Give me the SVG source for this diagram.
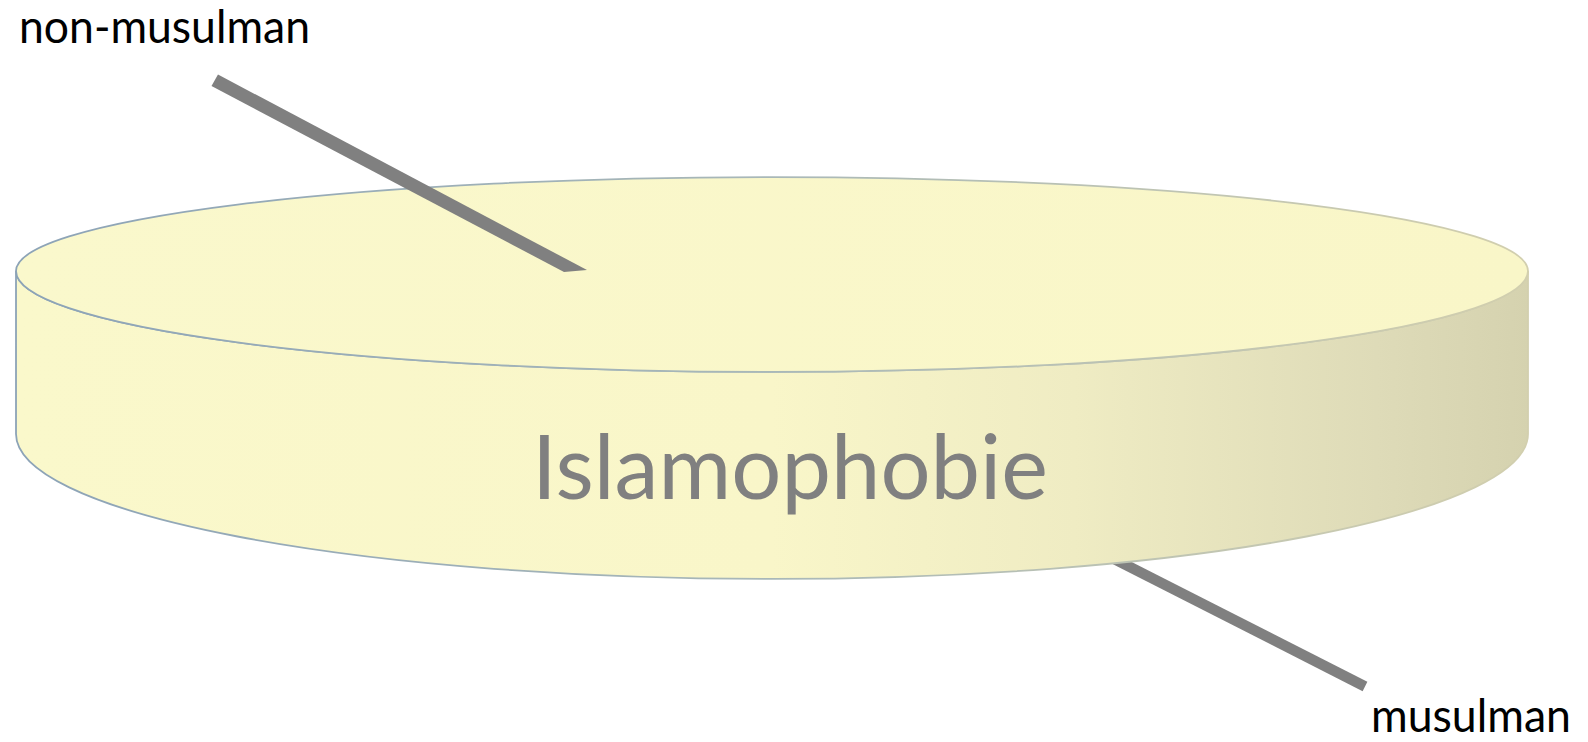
<svg xmlns="http://www.w3.org/2000/svg" width="1588" height="742" viewBox="0 0 1588 742">
  <defs>
    <linearGradient id="sideGrad" x1="16" y1="0" x2="1528" y2="0" gradientUnits="userSpaceOnUse">
      <stop offset="0" stop-color="#FAF8CB"/>
      <stop offset="0.5" stop-color="#F9F6C9"/>
      <stop offset="0.7" stop-color="#EFECC3"/>
      <stop offset="0.9" stop-color="#DEDBB8"/>
      <stop offset="1" stop-color="#D5D2AF"/>
    </linearGradient>
    <linearGradient id="topGrad" x1="16" y1="0" x2="1528" y2="0" gradientUnits="userSpaceOnUse">
      <stop offset="0" stop-color="#FAF8CC"/>
      <stop offset="1" stop-color="#F9F6C8"/>
    </linearGradient>
    <linearGradient id="edgeGrad" x1="16" y1="0" x2="1528" y2="0" gradientUnits="userSpaceOnUse">
      <stop offset="0" stop-color="#8CA3B7"/>
      <stop offset="0.5" stop-color="#A9B8B8"/>
      <stop offset="1" stop-color="#D2CFAE"/>
    </linearGradient>
    <style>
      .label { font-family: Lato, "Open Sans", "Liberation Sans", sans-serif; font-size: 47px; fill: #000000; }
      .title { font-family: Lato, "Open Sans", "Liberation Sans", sans-serif; font-size: 90px; fill: #808080; }
      .conn { stroke: #808080; stroke-width: 10.5; stroke-linecap: butt; fill: none; }
    </style>
  </defs>
  <rect width="1588" height="742" fill="#FFFFFF"/>
  <g id="connector-lower">
    <line class="conn" x1="1000" y1="501" x2="1365" y2="686.5"/>
  </g>
  <g id="disk">
    <path d="M16,271 L16,434 A756,145 0 0 0 1528,434 L1528,271 A756,101 0 0 1 16,271 Z" fill="url(#sideGrad)" stroke="url(#edgeGrad)" stroke-width="1.8"/>
    <path d="M16,271 A756,94 0 0 1 1528,271 A756,101 0 0 1 16,271 Z" fill="url(#topGrad)" stroke="url(#edgeGrad)" stroke-width="1.8"/>
    <text class="title" x="532" y="499" textLength="516" lengthAdjust="spacingAndGlyphs">Islamophobie</text>
  </g>
  <g id="connector-upper">
    <polygon points="218,74.5 587,270 564,272 211.5,86" fill="#808080"/>
  </g>
  <g id="label-non-musulman">
    <text class="label" x="19" y="43" textLength="291" lengthAdjust="spacingAndGlyphs">non-musulman</text>
  </g>
  <g id="label-musulman">
    <text class="label" x="1371" y="732" textLength="200" lengthAdjust="spacingAndGlyphs">musulman</text>
  </g>
</svg>
